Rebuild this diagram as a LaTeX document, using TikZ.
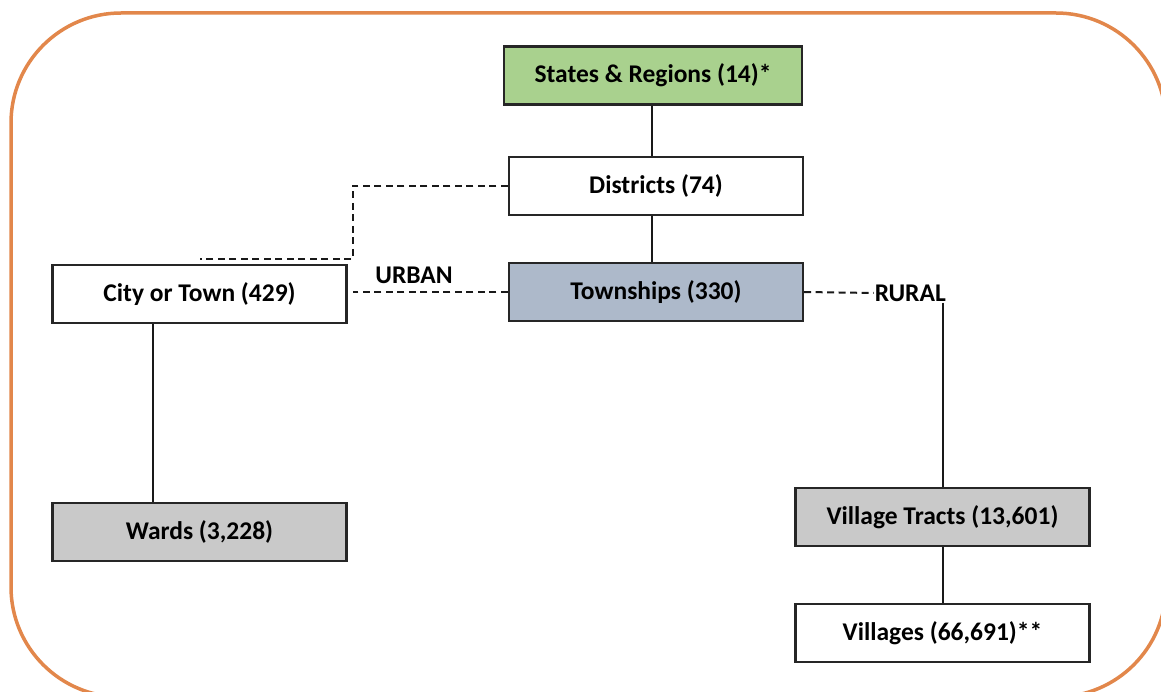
\documentclass[tikz,border=0pt]{standalone}
\usepackage{fontspec}
\setmainfont{Carlito}
\usepackage{xcolor}
\usetikzlibrary{positioning}

\definecolor{framebrown}{HTML}{E2874B}
\definecolor{stategreen}{HTML}{A9D18E}
\definecolor{townblue}{HTML}{ADB9CA}
\definecolor{wardgrey}{HTML}{C9C9C9}

\tikzset{
    unit/.style={draw=black!85, line width=2.2pt, fill=white, minimum width=294pt,
        minimum height=58pt, inner sep=0pt, font=\fontsize{25.5}{30}\selectfont\bfseries},
    link/.style={draw=black!90, line width=2pt},
    linkdash/.style={link, dash pattern=on 7pt off 4.5pt},
    area/.style={font=\fontsize{25.5}{30}\selectfont\bfseries, inner sep=1pt},
}

\begin{document}
\begin{tikzpicture}[x=1pt, y=-1pt]
    \useasboundingbox (0,0) rectangle (1161,692);
    \clip (0,0) rectangle (1161,692);
    \draw [framebrown, line width=3.5pt, rounded corners=110pt] (11,13) rectangle (1166,697);

    \node [unit, fill=townblue] (town) at (656,292) {Townships (330)};
    \node [unit, above=46pt of town] (dist) {Districts (74)};
    \node [unit, fill=stategreen, above=50pt of dist, xshift=-3pt, minimum width=298pt] (state) {States \& Regions (14)*};
    \node [unit] (city) at (199.5,294) {City or Town (429)};
    \node [unit, fill=wardgrey, below=178pt of city] (ward) {Wards (3,228)};
    \node [unit, fill=wardgrey] (tract) at (942.5,517) {Village Tracts (13,601)};
    \node [unit, below=56pt of tract] (vill) {Villages (66,691)**};

    \node [area] (urban) at (414,275) {URBAN};
    \node [area, anchor=east] (rural) at (947,293) {RURAL};
    \coordinate (cityport) at ([xshift=5pt]city.east);
    \coordinate (citybend) at ([xshift=5pt,yshift=5pt]city.north east);
    \coordinate (cityend) at ([yshift=5pt]city.north);

    % solid links
    \draw [link] (state.south -| 652,0) -- (dist.north -| 652,0);
    \draw [link] (dist.south -| 652,0) -- (town.north -| 652,0);
    \draw [link] ([xshift=-47pt]city.south) -- ([xshift=-47pt]ward.north);
    \draw [link] (rural.south -| tract.north) -- (tract.north);
    \draw [link] (tract.south) -- (vill.north);

    % dashed links
    \draw [linkdash] (dist.west) -| (citybend) -- (cityend);
    \draw [linkdash] (town.west) -- (town.west -| cityport);
    \draw [linkdash] (town.east) -- (rural.west);
\end{tikzpicture}
\end{document}
